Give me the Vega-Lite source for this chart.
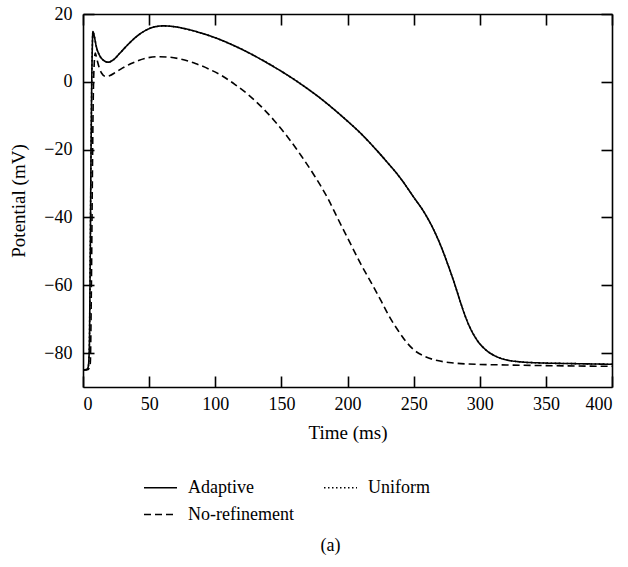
{
  "$schema": "https://vega.github.io/schema/vega-lite/v6.json",
  "width": 529,
  "height": 373,
  "autosize": {"type": "none"},
  "padding": {"left": 83, "top": 14, "right": 16, "bottom": 180},
  "background": "white",
  "config": {
    "view": {"stroke": null},
    "font": "Liberation Serif",
    "axis": {
      "grid": false,
      "domainColor": "black",
      "domainWidth": 1.6,
      "tickColor": "black",
      "tickWidth": 1.6,
      "tickSize": -11,
      "labelFont": "Liberation Serif",
      "labelFontSize": 18,
      "labelColor": "black",
      "titleFont": "Liberation Serif",
      "titleFontSize": 19,
      "titleFontWeight": "normal",
      "titleColor": "black"
    },
    "legend": {
      "labelFont": "Liberation Serif",
      "labelFontSize": 18,
      "labelColor": "black"
    },
    "title": {"font": "Liberation Serif", "fontSize": 18, "fontWeight": "normal", "color": "black"}
  },
  "title": {"text": "(a)", "orient": "bottom", "anchor": "middle", "offset": 13, "dx": -17},
  "data": {
    "values": [
      {"t": 0, "v": -85, "s": "Adaptive"}, {"t": 3, "v": -84.8, "s": "Adaptive"}, {"t": 4, "v": -84, "s": "Adaptive"}, {"t": 4.8, "v": -78, "s": "Adaptive"}, {"t": 5.5, "v": -50, "s": "Adaptive"}, {"t": 6.2, "v": -15, "s": "Adaptive"}, {"t": 6.8, "v": 5, "s": "Adaptive"}, {"t": 7.5, "v": 14.8, "s": "Adaptive"}, {"t": 8.5, "v": 13.5, "s": "Adaptive"}, {"t": 10, "v": 10.5, "s": "Adaptive"}, {"t": 12.5, "v": 7.8, "s": "Adaptive"}, {"t": 15, "v": 6.5, "s": "Adaptive"}, {"t": 19, "v": 5.8, "s": "Adaptive"}, {"t": 23, "v": 6.5, "s": "Adaptive"}, {"t": 28, "v": 8.5, "s": "Adaptive"}, {"t": 34, "v": 11, "s": "Adaptive"}, {"t": 40, "v": 13.2, "s": "Adaptive"}, {"t": 47, "v": 15.1, "s": "Adaptive"}, {"t": 54, "v": 16.2, "s": "Adaptive"}, {"t": 61, "v": 16.5, "s": "Adaptive"}, {"t": 70, "v": 16.2, "s": "Adaptive"}, {"t": 80, "v": 15.4, "s": "Adaptive"}, {"t": 90, "v": 14.3, "s": "Adaptive"}, {"t": 100, "v": 13, "s": "Adaptive"}, {"t": 110, "v": 11.4, "s": "Adaptive"}, {"t": 120, "v": 9.6, "s": "Adaptive"}, {"t": 130, "v": 7.6, "s": "Adaptive"}, {"t": 140, "v": 5.4, "s": "Adaptive"}, {"t": 150, "v": 3.1, "s": "Adaptive"}, {"t": 160, "v": 0.6, "s": "Adaptive"}, {"t": 170, "v": -2.1, "s": "Adaptive"}, {"t": 180, "v": -5, "s": "Adaptive"}, {"t": 190, "v": -8.2, "s": "Adaptive"}, {"t": 200, "v": -11.6, "s": "Adaptive"}, {"t": 210, "v": -15.2, "s": "Adaptive"}, {"t": 220, "v": -19.3, "s": "Adaptive"}, {"t": 230, "v": -23.7, "s": "Adaptive"}, {"t": 240, "v": -28.4, "s": "Adaptive"}, {"t": 250, "v": -34, "s": "Adaptive"}, {"t": 258, "v": -38.5, "s": "Adaptive"}, {"t": 265, "v": -43.5, "s": "Adaptive"}, {"t": 271, "v": -48.8, "s": "Adaptive"}, {"t": 276, "v": -54, "s": "Adaptive"}, {"t": 281, "v": -59.6, "s": "Adaptive"}, {"t": 285, "v": -64.5, "s": "Adaptive"}, {"t": 288, "v": -68, "s": "Adaptive"}, {"t": 293, "v": -72.8, "s": "Adaptive"}, {"t": 298, "v": -76.2, "s": "Adaptive"}, {"t": 305, "v": -79.2, "s": "Adaptive"}, {"t": 313, "v": -81.1, "s": "Adaptive"}, {"t": 320, "v": -82, "s": "Adaptive"}, {"t": 331, "v": -82.6, "s": "Adaptive"}, {"t": 346, "v": -82.9, "s": "Adaptive"}, {"t": 370, "v": -83.1, "s": "Adaptive"}, {"t": 400, "v": -83.3, "s": "Adaptive"},
      {"t": 0, "v": -85, "s": "Uniform"}, {"t": 3, "v": -84.8, "s": "Uniform"}, {"t": 4, "v": -84, "s": "Uniform"}, {"t": 4.8, "v": -78, "s": "Uniform"}, {"t": 5.5, "v": -50, "s": "Uniform"}, {"t": 6.2, "v": -15, "s": "Uniform"}, {"t": 6.8, "v": 5, "s": "Uniform"}, {"t": 7.5, "v": 14.8, "s": "Uniform"}, {"t": 8.5, "v": 13.5, "s": "Uniform"}, {"t": 10, "v": 10.5, "s": "Uniform"}, {"t": 12.5, "v": 7.8, "s": "Uniform"}, {"t": 15, "v": 6.5, "s": "Uniform"}, {"t": 19, "v": 5.8, "s": "Uniform"}, {"t": 23, "v": 6.5, "s": "Uniform"}, {"t": 28, "v": 8.5, "s": "Uniform"}, {"t": 34, "v": 11, "s": "Uniform"}, {"t": 40, "v": 13.2, "s": "Uniform"}, {"t": 47, "v": 15.1, "s": "Uniform"}, {"t": 54, "v": 16.2, "s": "Uniform"}, {"t": 61, "v": 16.5, "s": "Uniform"}, {"t": 70, "v": 16.2, "s": "Uniform"}, {"t": 80, "v": 15.4, "s": "Uniform"}, {"t": 90, "v": 14.3, "s": "Uniform"}, {"t": 100, "v": 13, "s": "Uniform"}, {"t": 110, "v": 11.4, "s": "Uniform"}, {"t": 120, "v": 9.6, "s": "Uniform"}, {"t": 130, "v": 7.6, "s": "Uniform"}, {"t": 140, "v": 5.4, "s": "Uniform"}, {"t": 150, "v": 3.1, "s": "Uniform"}, {"t": 160, "v": 0.6, "s": "Uniform"}, {"t": 170, "v": -2.1, "s": "Uniform"}, {"t": 180, "v": -5, "s": "Uniform"}, {"t": 190, "v": -8.2, "s": "Uniform"}, {"t": 200, "v": -11.6, "s": "Uniform"}, {"t": 210, "v": -15.2, "s": "Uniform"}, {"t": 220, "v": -19.3, "s": "Uniform"}, {"t": 230, "v": -23.7, "s": "Uniform"}, {"t": 240, "v": -28.4, "s": "Uniform"}, {"t": 250, "v": -34, "s": "Uniform"}, {"t": 258, "v": -38.5, "s": "Uniform"}, {"t": 265, "v": -43.5, "s": "Uniform"}, {"t": 271, "v": -48.8, "s": "Uniform"}, {"t": 276, "v": -54, "s": "Uniform"}, {"t": 281, "v": -59.6, "s": "Uniform"}, {"t": 285, "v": -64.5, "s": "Uniform"}, {"t": 288, "v": -68, "s": "Uniform"}, {"t": 293, "v": -72.8, "s": "Uniform"}, {"t": 298, "v": -76.2, "s": "Uniform"}, {"t": 305, "v": -79.2, "s": "Uniform"}, {"t": 313, "v": -81.1, "s": "Uniform"}, {"t": 320, "v": -82, "s": "Uniform"}, {"t": 331, "v": -82.6, "s": "Uniform"}, {"t": 346, "v": -82.9, "s": "Uniform"}, {"t": 370, "v": -83.1, "s": "Uniform"}, {"t": 400, "v": -83.3, "s": "Uniform"},
      {"t": 0, "v": -85, "s": "No-refinement"}, {"t": 4, "v": -84.8, "s": "No-refinement"}, {"t": 5.5, "v": -83, "s": "No-refinement"}, {"t": 6.3, "v": -62, "s": "No-refinement"}, {"t": 7, "v": -32, "s": "No-refinement"}, {"t": 7.7, "v": -6, "s": "No-refinement"}, {"t": 8.5, "v": 5.5, "s": "No-refinement"}, {"t": 9.3, "v": 8.5, "s": "No-refinement"}, {"t": 10.3, "v": 7, "s": "No-refinement"}, {"t": 12, "v": 4.5, "s": "No-refinement"}, {"t": 14, "v": 2.6, "s": "No-refinement"}, {"t": 17, "v": 1.6, "s": "No-refinement"}, {"t": 20, "v": 1.8, "s": "No-refinement"}, {"t": 25, "v": 2.9, "s": "No-refinement"}, {"t": 30, "v": 4.1, "s": "No-refinement"}, {"t": 36, "v": 5.3, "s": "No-refinement"}, {"t": 42, "v": 6.3, "s": "No-refinement"}, {"t": 49, "v": 7.1, "s": "No-refinement"}, {"t": 56, "v": 7.4, "s": "No-refinement"}, {"t": 64, "v": 7.3, "s": "No-refinement"}, {"t": 74, "v": 6.7, "s": "No-refinement"}, {"t": 85, "v": 5.4, "s": "No-refinement"}, {"t": 95, "v": 3.8, "s": "No-refinement"}, {"t": 105, "v": 1.8, "s": "No-refinement"}, {"t": 115, "v": -0.8, "s": "No-refinement"}, {"t": 125, "v": -3.8, "s": "No-refinement"}, {"t": 135, "v": -7.4, "s": "No-refinement"}, {"t": 145, "v": -11.6, "s": "No-refinement"}, {"t": 155, "v": -16.4, "s": "No-refinement"}, {"t": 165, "v": -21.8, "s": "No-refinement"}, {"t": 175, "v": -27.7, "s": "No-refinement"}, {"t": 185, "v": -34.3, "s": "No-refinement"}, {"t": 192, "v": -39.8, "s": "No-refinement"}, {"t": 200, "v": -46, "s": "No-refinement"}, {"t": 210, "v": -53.7, "s": "No-refinement"}, {"t": 219, "v": -60, "s": "No-refinement"}, {"t": 225, "v": -64.3, "s": "No-refinement"}, {"t": 231, "v": -68.8, "s": "No-refinement"}, {"t": 238, "v": -73.2, "s": "No-refinement"}, {"t": 244, "v": -76.5, "s": "No-refinement"}, {"t": 250, "v": -79, "s": "No-refinement"}, {"t": 258, "v": -80.9, "s": "No-refinement"}, {"t": 268, "v": -82.2, "s": "No-refinement"}, {"t": 280, "v": -82.9, "s": "No-refinement"}, {"t": 290, "v": -83.2, "s": "No-refinement"}, {"t": 320, "v": -83.5, "s": "No-refinement"}, {"t": 350, "v": -83.7, "s": "No-refinement"}, {"t": 400, "v": -83.9, "s": "No-refinement"}
    ]
  },
  "layer": [
    {
      "mark": {"type": "line", "color": "black", "strokeWidth": 1.6, "interpolate": "monotone"},
      "encoding": {
        "x": {
          "field": "t", "type": "quantitative",
          "scale": {"domain": [0, 400], "nice": false, "zero": false},
          "axis": {"title": "Time (ms)", "values": [0, 50, 100, 150, 200, 250, 300, 350, 400], "labelPadding": 19, "titlePadding": 10}
        },
        "y": {
          "field": "v", "type": "quantitative",
          "scale": {"domain": [-90, 20], "nice": false, "zero": false},
          "axis": {"title": "Potential (mV)", "values": [-80, -60, -40, -20, 0, 20], "labelPadding": 22, "titlePadding": 15}
        },
        "strokeDash": {
          "field": "s", "type": "nominal",
          "sort": ["Adaptive", "Uniform", "No-refinement"],
          "scale": {"domain": ["Adaptive", "Uniform", "No-refinement"], "range": [[1, 0], [1.5, 2.5], [7, 4]]},
          "legend": {
            "title": null,
            "orient": "none",
            "direction": "horizontal",
            "legendX": 60,
            "legendY": 456,
            "columns": 2,
            "columnPadding": 27,
            "rowPadding": -18,
            "symbolType": "stroke",
            "symbolSize": 1089,
            "symbolStrokeWidth": 1.4,
            "symbolStrokeColor": "black",
            "labelOffset": 10
          }
        }
      }
    },
    {
      "mark": {"type": "line", "opacity": 0},
      "encoding": {
        "x": {"field": "t", "type": "quantitative", "axis": {"orient": "top", "labels": false, "title": null, "values": [0, 50, 100, 150, 200, 250, 300, 350, 400]}},
        "y": {"field": "v", "type": "quantitative", "axis": {"orient": "right", "labels": false, "title": null, "values": [-80, -60, -40, -20, 0, 20]}},
        "detail": {"field": "s", "type": "nominal"}
      }
    }
  ],
  "resolve": {"axis": {"x": "independent", "y": "independent"}}
}
